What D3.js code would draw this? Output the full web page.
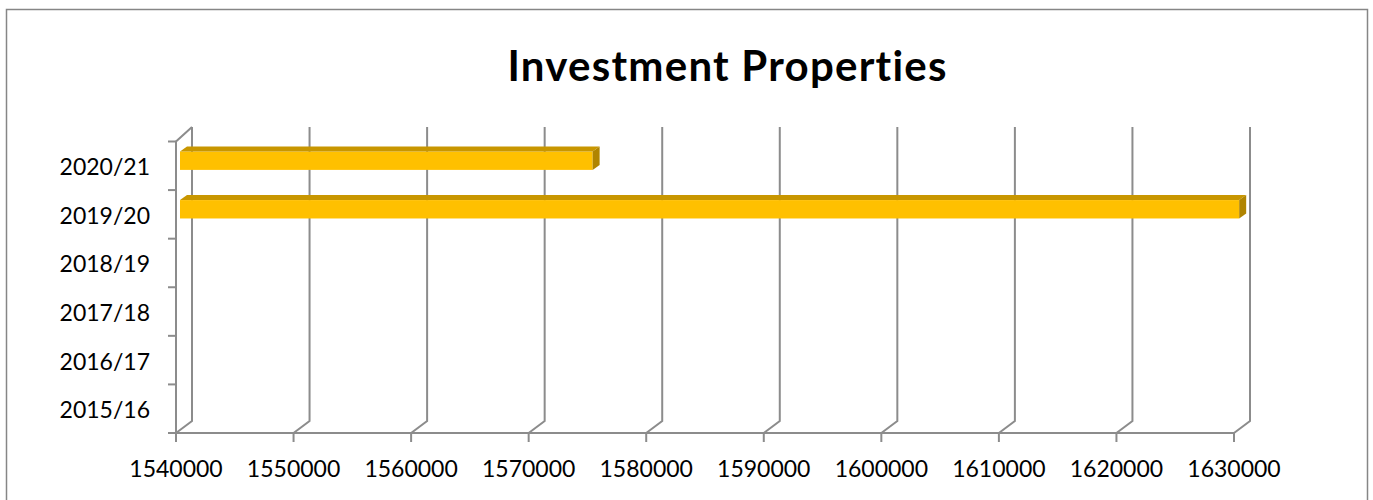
<!DOCTYPE html>
<meta charset="utf-8">
<html>
<script src="https://d3js.org/d3.v7.min.js"></script>
<style>
    body { margin: 0; background: #fff; }
    text { font-family: Lato, "Open Sans", sans-serif; fill: #000; font-variant-ligatures: none; }
</style>
<body>
<div id="chart"></div>
<script>
    // data
    var categories = ["2015/16", "2016/17", "2017/18", "2018/19", "2019/20", "2020/21"];
    var values = [null, null, null, null, 1630100, 1575100];
    var xTicks = [1540000, 1550000, 1560000, 1570000, 1580000, 1590000, 1600000, 1610000, 1620000, 1630000];
    var title = "Investment Properties";

    var W = 1373, H = 500;
    var DX = 16, DY = -12;          // depth of the back wall
    var BX = 4, BDX = 7, BDY = -5;   // bar offset and bar depth

    var svg = d3.select("#chart").append("svg")
        .attr("width", W)
        .attr("height", H);

    // outer chart border
    svg.append("rect")
        .attr("x", 6.5).attr("y", 9.5)
        .attr("width", 1361).attr("height", 520)
        .attr("fill", "none")
        .attr("stroke", "#868686")
        .attr("stroke-width", 1.5);

    svg.append("text")
        .attr("x", 727).attr("y", 81)
        .attr("text-anchor", "middle")
        .attr("textLength", 439)
        .attr("lengthAdjust", "spacing")
        .style("font-weight", "bold")
        .style("font-size", "42px")
        .text(title);

    var x = d3.scaleLinear()
        .domain([xTicks[0], xTicks[xTicks.length - 1]])
        .range([176, 1234]);

    var y = d3.scaleBand()
        .domain(categories.slice().reverse())
        .range([141.5, 433]);

    var y0 = 433, yTop = y.range()[0];
    var grid = "#8c8c8c";

    // back wall gridlines + floor diagonals
    var g = svg.append("g").attr("stroke", grid).attr("stroke-width", 2).attr("fill", "none");
    g.selectAll(".grid").data(xTicks).enter().append("path")
        .attr("d", function (d) {
            return "M" + x(d) + "," + y0 + "L" + (x(d) + DX) + "," + (y0 + DY) +
                "L" + (x(d) + DX) + ",127";
        });

    // left wall front edge
    g.append("path")
        .attr("d", "M" + (x(xTicks[0]) + DX) + ",127L" + x(xTicks[0]) + "," + yTop +
            "L" + x(xTicks[0]) + "," + y0 + "L" + x(xTicks[xTicks.length - 1]) + "," + y0);

    // category ticks
    var bounds = categories.map(function (c) { return y(c); }).concat([y0]);
    g.selectAll(".ytick").data(bounds).enter().append("line")
        .attr("x1", x(xTicks[0]) - 8).attr("x2", x(xTicks[0]))
        .attr("y1", function (d) { return d; })
        .attr("y2", function (d) { return d; });

    // value ticks
    g.selectAll(".xtick").data(xTicks).enter().append("line")
        .attr("x1", function (d) { return x(d); })
        .attr("x2", function (d) { return x(d); })
        .attr("y1", y0).attr("y2", y0 + 9);

    // labels
    svg.selectAll(".ylab").data(categories).enter().append("text")
        .attr("x", 150)
        .attr("y", function (d) { return y(d) + y.bandwidth() / 2 + 9.5; })
        .attr("text-anchor", "end")
        .style("font-size", "23px")
        .text(function (d) { return d; });

    svg.selectAll(".xlab").data(xTicks).enter().append("text")
        .attr("x", function (d) { return x(d); })
        .attr("y", 477)
        .attr("text-anchor", "middle")
        .style("font-size", "23px")
        .text(function (d) { return d; });

    // bars
    var bars = categories.map(function (c, i) { return { c: c, v: values[i] }; })
        .filter(function (d) { return d.v != null; });

    var bar = svg.selectAll(".bar").data(bars).enter().append("g");
    function geom(d) {
        var c = y(d.c) + y.bandwidth() / 2;
        return { x0: x(xTicks[0]) + BX, x1: x(d.v) + BX, t: c - 14.3, b: c + 4.1 };
    }
    bar.append("rect")
        .attr("x", function (d) { return geom(d).x0; })
        .attr("y", function (d) { return geom(d).t; })
        .attr("width", function (d) { var p = geom(d); return p.x1 - p.x0; })
        .attr("height", function (d) { var p = geom(d); return p.b - p.t; })
        .attr("fill", "#FFC000");
    bar.append("path")
        .attr("fill", "#C89600")
        .attr("d", function (d) {
            var p = geom(d);
            return "M" + p.x0 + "," + p.t + "L" + (p.x0 + BDX) + "," + (p.t + BDY) +
                "L" + (p.x1 + BDX) + "," + (p.t + BDY) + "L" + p.x1 + "," + p.t + "Z";
        });
    bar.append("path")
        .attr("fill", "#B08400")
        .attr("d", function (d) {
            var p = geom(d);
            return "M" + p.x1 + "," + p.t + "L" + (p.x1 + BDX) + "," + (p.t + BDY) +
                "L" + (p.x1 + BDX) + "," + (p.b + BDY) + "L" + p.x1 + "," + p.b + "Z";
        });
</script>
</body>
</html>
